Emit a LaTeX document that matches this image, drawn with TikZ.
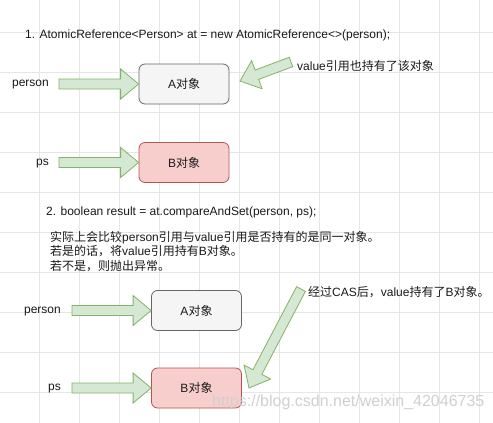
\documentclass[tikz,border=0pt]{standalone}
\usepackage{fontspec}
\setmainfont{Liberation Sans}
\newfontfamily\cjk{Noto Sans CJK SC}
\usetikzlibrary{calc}
\definecolor{gridc}{HTML}{E6E6E6}
\definecolor{arrfill}{HTML}{D5E8D4}
\definecolor{arrdraw}{HTML}{82B366}
\definecolor{afill}{HTML}{F5F5F5}
\definecolor{adraw}{HTML}{666666}
\definecolor{bfill}{HTML}{F8CECC}
\definecolor{bdraw}{HTML}{B85450}
\definecolor{txt}{HTML}{1A1A1A}
\definecolor{wmark}{HTML}{D0D0D0}
\newcommand\blockarr[2]{%
  \path ($(#2)!18pt!(#1)$) coordinate (hb);
  \draw[blockarrow] ($(#1)!5pt!90:(#2)$) -- ($(hb)!5pt!-90:(#1)$) -- ($(hb)!15pt!-90:(#1)$) -- (#2)
    -- ($(hb)!15pt!90:(#1)$) -- ($(hb)!5pt!90:(#1)$) -- ($(#1)!5pt!-90:(#2)$) -- cycle;}
\tikzset{
  obj/.style={rounded corners=6pt, minimum width=90pt, minimum height=40pt, inner sep=0pt,
    font=\fontsize{12}{14}\selectfont, text=txt, line width=0.8pt},
  aobj/.style={obj, fill=afill, draw=adraw},
  bobj/.style={obj, fill=bfill, draw=bdraw},
  lbl/.style={inner sep=0pt, font=\fontsize{12}{14}\selectfont, text=txt},
  blockarrow/.style={fill=arrfill, draw=arrdraw, line width=0.8pt, line join=miter},
  gridline/.style={draw=gridc, line width=0.6pt}
}
\begin{document}
\begin{tikzpicture}[x=1pt,y=-1pt]
\useasboundingbox (0,0) rectangle (493,423);
\fill[white] (0,0) rectangle (493,423);
\foreach \x in {39.5,79.5,...,479.5} \draw[gridline] (\x,0) -- (\x,423);
\foreach \y in {32.5,72.5,...,392.5} \draw[gridline] (0,\y) -- (493,\y);

% part 1
\node[lbl, anchor=base west] (t1) at (25,38) {1. AtomicReference<Person> at = new AtomicReference<>(person);};
\node[aobj] (A1) at (184,84) {A{\cjk 对象}};
\node[bobj] (B1) at (184,162.5) {B{\cjk 对象}};
\node[lbl, anchor=base east] (p1) at (49,86.5) {person};
\node[lbl, anchor=base east] (s1) at (49,165.5) {ps};
\node[lbl, anchor=base west] (v1) at (297,70) {value{\cjk 引用也持有了该对象}};
\coordinate (p1t) at (59,84);
\coordinate (s1t) at (59,162.5);
\coordinate (v1t) at (291,62);
\coordinate (v1h) at (240,81);
\blockarr{p1t}{A1.west}
\blockarr{s1t}{B1.west}
\blockarr{v1t}{v1h}

% part 2
\node[lbl, anchor=base west] (t2) at (46,215.5) {2. boolean result = at.compareAndSet(person, ps);};
\node[lbl, anchor=base west] (l1) at (50,241) {{\cjk 实际上会比较}person{\cjk 引用与}value{\cjk 引用是否持有的是同一对象。}};
\node[lbl, anchor=base west] (l2) at (50,255.5) {{\cjk 若是的话，将}value{\cjk 引用持有}B{\cjk 对象。}};
\node[lbl, anchor=base west] (l3) at (50,270) {{\cjk 若不是，则抛出异常。}};
\node[aobj] (A2) at (196.5,310.5) {A{\cjk 对象}};
\node[bobj] (B2) at (196.5,388) {B{\cjk 对象}};
\node[lbl, anchor=base east] (p2) at (61,313) {person};
\node[lbl, anchor=base east] (s2) at (61,390.5) {ps};
\node[lbl, anchor=base west] (v2) at (308,296) {{\cjk 经过}CAS{\cjk 后，}value{\cjk 持有了}B{\cjk 对象。}};
\coordinate (p2t) at (72,310.5);
\coordinate (s2t) at (72,388);
\coordinate (v2t) at (301,289);
\coordinate (v2h) at (249,388);
\blockarr{p2t}{A2.west}
\blockarr{s2t}{B2.west}
\blockarr{v2t}{v2h}

\node[inner sep=0pt, anchor=west, text=wmark, font=\fontsize{16}{18}\selectfont] (wm) at (212,402) {https://blog.csdn.net/weixin\_42046735};
\end{tikzpicture}
\end{document}
